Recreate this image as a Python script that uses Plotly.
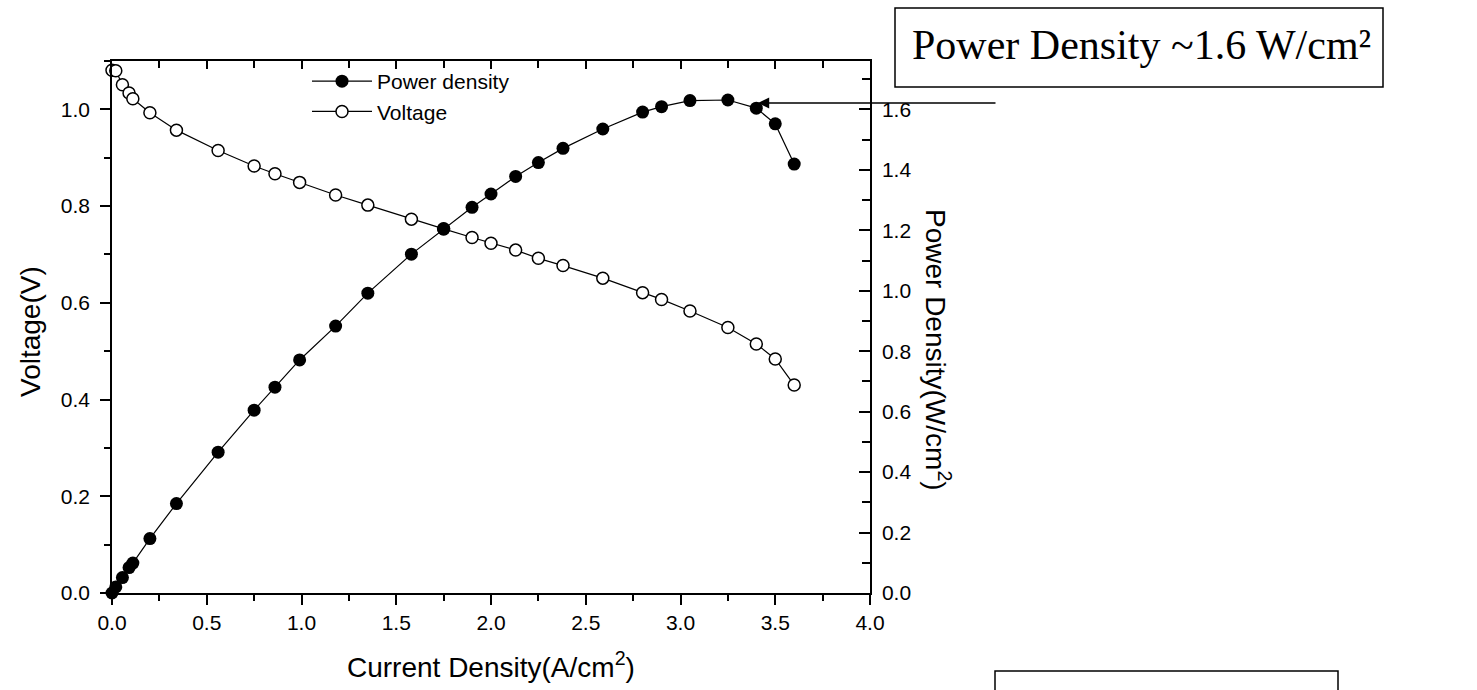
import plotly.graph_objects as go

# Data
current_density = [0.0, 0.02, 0.055, 0.09, 0.11, 0.2, 0.34, 0.56, 0.75, 0.86, 0.99, 1.18, 1.35, 1.58,
                   1.75, 1.9, 2.0, 2.13, 2.25, 2.38, 2.59, 2.8, 2.9, 3.05, 3.25, 3.4, 3.5, 3.6]
voltage = [1.081, 1.080, 1.051, 1.034, 1.022, 0.993, 0.957, 0.915, 0.883, 0.867, 0.849, 0.823, 0.802, 0.773,
           0.753, 0.735, 0.723, 0.709, 0.692, 0.677, 0.651, 0.621, 0.607, 0.583, 0.549, 0.515, 0.484, 0.430]
power_density = [0.0, 0.020, 0.051, 0.084, 0.099, 0.180, 0.296, 0.466, 0.605, 0.681, 0.771, 0.883, 0.992, 1.121,
                 1.204, 1.276, 1.320, 1.378, 1.424, 1.471, 1.535, 1.591, 1.609, 1.629, 1.631, 1.604, 1.552, 1.419]

x_ticks = [0.0, 0.5, 1.0, 1.5, 2.0, 2.5, 3.0, 3.5, 4.0]
v_ticks = [0.0, 0.2, 0.4, 0.6, 0.8, 1.0]
p_ticks = [0.0, 0.2, 0.4, 0.6, 0.8, 1.0, 1.2, 1.4, 1.6]

SANS = "Liberation Sans, Arial, sans-serif"
SERIF = "Liberation Serif, Times New Roman, serif"

W, H = 1477, 690
L, R, T, B = 112, 870, 61, 593


def px(xp):
    return (xp - L) / (R - L)


def py(yp):
    return (B - yp) / (B - T)


fig = go.Figure()

fig.add_trace(go.Scatter(
    x=current_density, y=voltage, name="Voltage", mode="lines+markers",
    xaxis="x", yaxis="y", cliponaxis=False, legendrank=2,
    line=dict(color="black", width=1.2),
    marker=dict(symbol="circle", size=12, color="white", line=dict(color="black", width=1.5)),
))
fig.add_trace(go.Scatter(
    x=current_density, y=power_density, name="Power density", mode="lines+markers",
    xaxis="x2", yaxis="y2", cliponaxis=False, legendrank=1,
    line=dict(color="black", width=1.2),
    marker=dict(symbol="circle", size=13, color="black", line=dict(color="black", width=0)),
))

axis_common = dict(showgrid=False, zeroline=False, showline=True, linecolor="black", linewidth=1.5,
                   tickcolor="black", tickwidth=1.5, tickfont=dict(family=SANS, size=21, color="black"),
                   tickformat=".1f")

fig.update_layout(
    width=W, height=H,
    margin=dict(l=L, r=W - R, t=T, b=H - B, pad=0),
    paper_bgcolor="white", plot_bgcolor="white",
    showlegend=True,
    legend=dict(x=px(307), y=py(61), xanchor="left", yanchor="top", bgcolor="rgba(0,0,0,0)",
                font=dict(family=SANS, size=21, color="black"), tracegroupgap=0, itemwidth=60),
    xaxis=dict(range=[0, 4], tickvals=x_ticks, ticks="outside", ticklen=10,
               minor=dict(dtick=0.25, ticks="outside", ticklen=6, tickcolor="black", tickwidth=1.5),
               ticklabelstandoff=0, **axis_common),
    yaxis=dict(range=[0, 1.1], tickvals=v_ticks, ticks="outside", ticklen=10,
               minor=dict(dtick=0.1, ticks="outside", ticklen=6, tickcolor="black", tickwidth=1.5),
               ticklabelstandoff=6, **axis_common),
    xaxis2=dict(range=[0, 4], overlaying="x", side="top", anchor="y2", tickvals=x_ticks, ticks="inside",
                ticklen=8, showticklabels=False,
                minor=dict(dtick=0.25, ticks="inside", ticklen=7, tickcolor="black", tickwidth=1.5),
                **axis_common),
    yaxis2=dict(range=[0, 1.76], overlaying="y", side="right", anchor="x2", tickvals=p_ticks,
                ticks="inside", ticklen=11,
                minor=dict(dtick=0.1, ticks="inside", ticklen=8, tickcolor="black", tickwidth=1.5),
                ticklabelstandoff=6, **axis_common),
)

annotations = [
    dict(text="Current Density(A/cm<sup>2</sup>)", x=0.5, y=py(665), xref="paper", yref="paper",
         xanchor="center", yanchor="middle", showarrow=False,
         font=dict(family=SANS, size=28, color="black")),
    dict(text="Voltage(V)", x=px(30), y=py(332), xref="paper", yref="paper", textangle=-90,
         xanchor="center", yanchor="middle", showarrow=False,
         font=dict(family=SANS, size=28, color="black")),
    dict(text="Power Density(W/cm<sup>2</sup>)", x=px(938), y=py(350), xref="paper", yref="paper",
         textangle=90, xanchor="center", yanchor="middle", showarrow=False,
         font=dict(family=SANS, size=28, color="black")),
    dict(text="Power Density ~1.6 W/cm²", x=px(1141), y=py(45), xref="paper", yref="paper",
         xanchor="center", yanchor="middle", showarrow=False,
         font=dict(family=SERIF, size=42, color="black")),
    dict(text="", x=px(758), y=py(103), xref="paper", yref="paper", ax=239, ay=0,
         axref="pixel", ayref="pixel", showarrow=True, arrowhead=2, arrowsize=1.6,
         arrowwidth=1.4, arrowcolor="black"),
]
fig.update_layout(annotations=annotations)

fig.add_shape(type="rect", xref="paper", yref="paper", x0=px(895), x1=px(1383), y0=py(87), y1=py(8),
              line=dict(color="black", width=1.5), fillcolor="rgba(0,0,0,0)")
fig.add_shape(type="rect", xref="paper", yref="paper", x0=px(995), x1=px(1338), y0=py(700), y1=py(671),
              line=dict(color="black", width=1.5), fillcolor="rgba(0,0,0,0)")

fig.write_html("out.html")
